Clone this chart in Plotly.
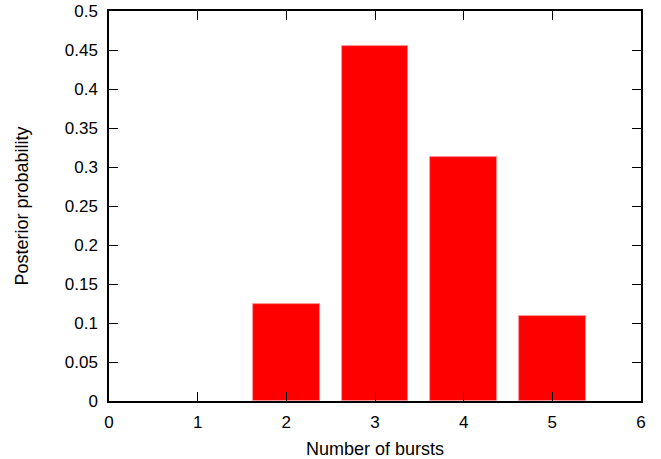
import plotly.graph_objects as go

bursts = [2, 3, 4, 5]
probability = [0.125, 0.455, 0.313, 0.109]
x_ticks = [0, 1, 2, 3, 4, 5, 6]
y_ticks = [0, 0.05, 0.1, 0.15, 0.2, 0.25, 0.3, 0.35, 0.4, 0.45, 0.5]
y_tick_labels = ["0", "0.05", "0.1", "0.15", "0.2", "0.25", "0.3", "0.35", "0.4", "0.45", "0.5"]

fig = go.Figure()
fig.add_trace(go.Bar(
    x=bursts, y=probability, width=0.75,
    marker=dict(color="#ff0000", line=dict(color="#ff9999", width=0.8)),
))

font = dict(family="Liberation Sans, Arial, sans-serif", size=17, color="#000")
title_font = dict(family="Liberation Sans, Arial, sans-serif", size=18, color="#000")
axis_common = dict(
    showgrid=False, zeroline=False, showline=True, linecolor="#000", linewidth=1.5,
    mirror="allticks", ticks="inside", ticklen=9, tickcolor="#000", tickwidth=1,
    tickfont=font, automargin=False,
)
fig.update_layout(
    width=661, height=459,
    margin=dict(l=109, r=20, t=11, b=58),
    paper_bgcolor="white", plot_bgcolor="white",
    showlegend=False, bargap=0,
    xaxis=dict(range=[0, 6], tickvals=x_ticks, ticklabelstandoff=5,
               title=dict(text="Number of bursts", font=title_font, standoff=13), **axis_common),
    yaxis=dict(range=[0, 0.5], tickvals=y_ticks, ticktext=y_tick_labels, ticklabelstandoff=6,
               title=dict(text="Posterior probability", font=title_font, standoff=31), **axis_common),
)
fig.write_html("out.html")
